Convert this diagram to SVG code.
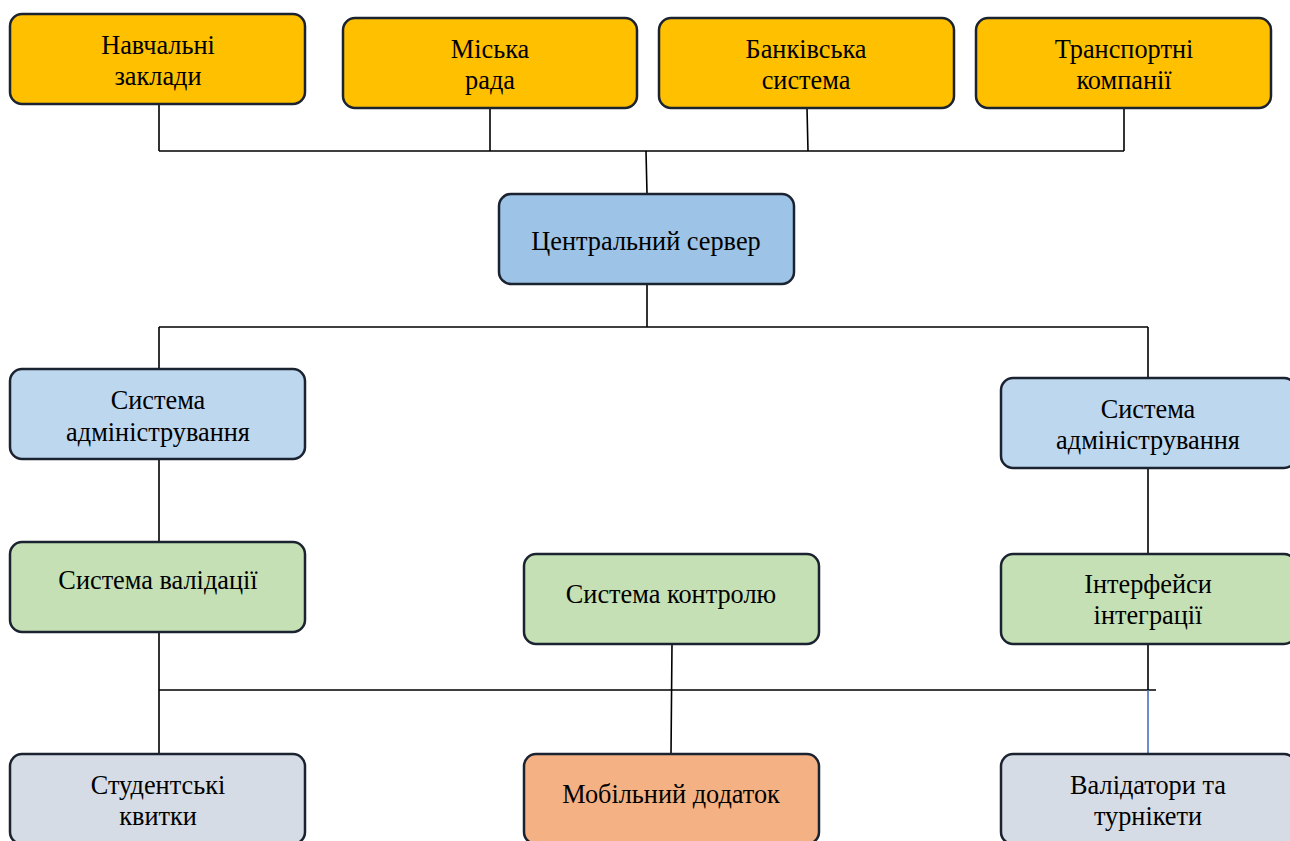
<svg xmlns="http://www.w3.org/2000/svg" width="1290" height="841" viewBox="0 0 1290 841">
<style>
.n rect{stroke:#1b2230;stroke-width:2.5}
.t{font-family:"Liberation Serif","Times New Roman",serif;font-size:26.3px;fill:#000;text-anchor:middle}
.c{stroke:#000;stroke-width:1.6;fill:none}
.gold{fill:#FFC000}.cs{fill:#9DC3E6}.lb{fill:#BDD7EE}.gr{fill:#C5E0B4}.gy{fill:#D6DCE5}.or{fill:#F4B183}
</style>
<rect width="1290" height="841" fill="#fff"/>
<g id="connectors">
<path class="c" d="M159 104V151M490 108V151M807 108L808 151M1124 108V151M159 151H1124M646 151L647 194"/>
<path class="c" d="M647 284V327M159 327H1148M159 327V369M1148 327V378"/>
<path class="c" d="M159 459V542M1148 468V555"/>
<path class="c" d="M159 632V754M159 690H1156M672 644L671 754M1148 644V690"/>
<path d="M1148 690V754" stroke="#4472C4" stroke-width="1.6"/>
</g>
<g id="n1" class="n"><rect class="gold" x="10" y="14" width="295" height="90" rx="12"/><text class="t" x="158" y="54">Навчальні</text><text class="t" x="158" y="85">заклади</text></g>
<g id="n2" class="n"><rect class="gold" x="343" y="18" width="294" height="90" rx="12"/><text class="t" x="490" y="58">Міська</text><text class="t" x="490" y="89">рада</text></g>
<g id="n3" class="n"><rect class="gold" x="659" y="18" width="295" height="90" rx="12"/><text class="t" x="806" y="58">Банківська</text><text class="t" x="806" y="89">система</text></g>
<g id="n4" class="n"><rect class="gold" x="976" y="18" width="295" height="90" rx="12"/><text class="t" x="1124" y="58">Транспортні</text><text class="t" x="1124" y="89">компанії</text></g>
<g id="n5" class="n"><rect class="cs" x="499" y="194" width="295" height="90" rx="12"/><text class="t" x="646" y="250">Центральний сервер</text></g>
<g id="n6" class="n"><rect class="lb" x="10" y="369" width="295" height="90" rx="12"/><text class="t" x="158" y="409">Система</text><text class="t" x="158" y="441">адміністрування</text></g>
<g id="n7" class="n"><rect class="lb" x="1001" y="378" width="295" height="90" rx="12"/><text class="t" x="1148" y="418">Система</text><text class="t" x="1148" y="449">адміністрування</text></g>
<g id="n8" class="n"><rect class="gr" x="10" y="542" width="295" height="90" rx="12"/><text class="t" x="158" y="589">Система валідації</text></g>
<g id="n9" class="n"><rect class="gr" x="524" y="554" width="295" height="90" rx="12"/><text class="t" x="671" y="603">Система контролю</text></g>
<g id="n10" class="n"><rect class="gr" x="1001" y="554" width="295" height="90" rx="12"/><text class="t" x="1148" y="593">Інтерфейси</text><text class="t" x="1148" y="624">інтеграції</text></g>
<g id="n11" class="n"><rect class="gy" x="10" y="754" width="295" height="90" rx="12"/><text class="t" x="158" y="794">Студентські</text><text class="t" x="158" y="825">квитки</text></g>
<g id="n12" class="n"><rect class="or" x="524" y="754" width="295" height="90" rx="12"/><text class="t" x="671" y="803">Мобільний додаток</text></g>
<g id="n13" class="n"><rect class="gy" x="1001" y="754" width="295" height="90" rx="12"/><text class="t" x="1148" y="794">Валідатори та</text><text class="t" x="1148" y="825">турнікети</text></g>
</svg>
